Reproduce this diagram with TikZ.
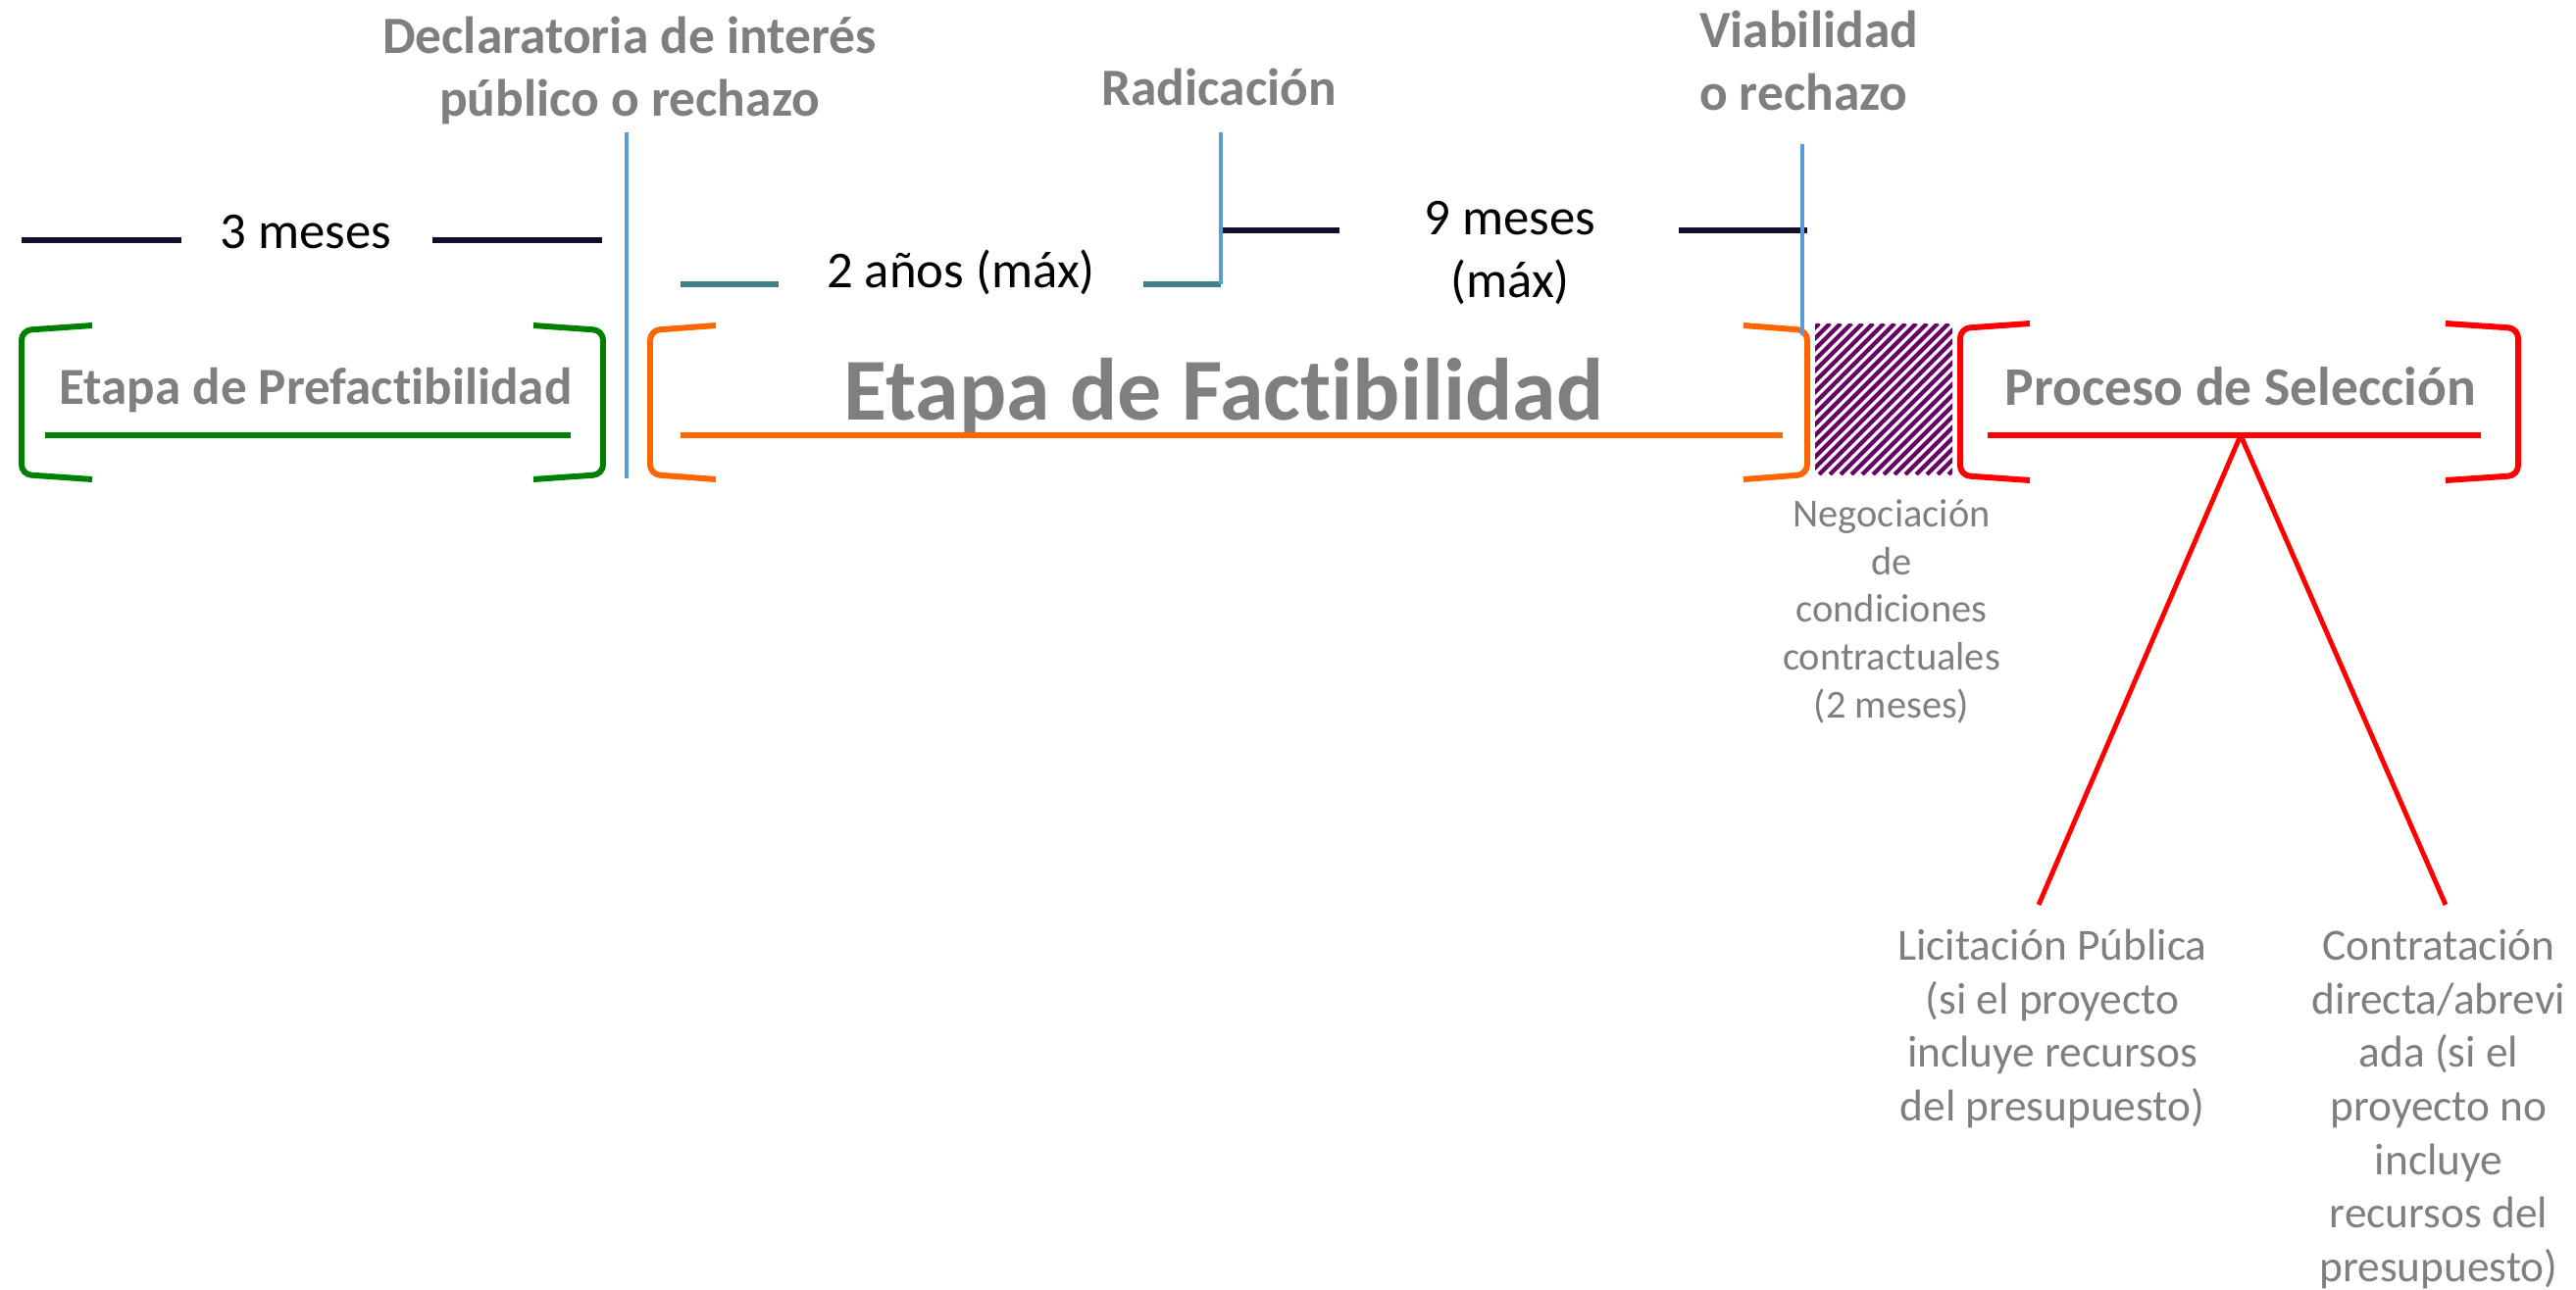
\documentclass[tikz,border=0pt]{standalone}
\usepackage{fontspec}
\setmainfont{Carlito}[Ligatures=NoCommon]
\definecolor{txtgray}{HTML}{7F7F7F}
\definecolor{navyln}{HTML}{10102A}
\definecolor{tealln}{HTML}{3F7F86}
\definecolor{bluemk}{HTML}{5B9BD5}
\definecolor{greenbr}{HTML}{008000}
\definecolor{orangebr}{HTML}{FF6600}
\definecolor{hatchp}{HTML}{660066}

\begin{document}
\begin{tikzpicture}[x=0.01cm, y=-0.01cm, inner sep=0pt, line width=1.7pt,
    hdr/.style = {font=\bfseries\fontsize{15.2}{18}\selectfont, text=txtgray, align=center},
    dur/.style = {font=\fontsize{15}{18}\selectfont, align=center},
    stage/.style = {font=\bfseries\fontsize{15.1}{18}\selectfont, text=txtgray},
    note/.style = {font=\fontsize{11.5}{13.8}\selectfont, text=txtgray, align=center},
    opt/.style = {font=\fontsize{12.9}{15.5}\selectfont, text=txtgray, align=center},
    marker/.style = {draw=bluemk, line width=1.4pt},
    span/.style = {draw=navyln},
    tspan/.style = {draw=tealln},
    brk/.style = {rounded corners=0.1cm},
    hatchbox/.style = {minimum width=1.4cm, minimum height=1.54cm}]
    \useasboundingbox (0,0) rectangle (2627,1315);

    % headers (base = last line)
    \node[hdr, anchor=base] (decl) at (642,118) {Declaratoria de interés\\público o rechazo};
    \node[hdr, anchor=base] (radic) at (1243,107) {Radicación};
    \node[hdr, align=left, anchor=base west] (viab) at (1730,112) {Viabilidad\\o rechazo};

    % durations
    \node[dur, anchor=base] (t0) at (312,253) {3 meses};
    \node[dur, anchor=base] (t1) at (980,293) {2 años (máx)};
    \node[dur, anchor=base] (t2) at (1540,303) {9 meses\\(máx)};
    \draw[span] (22,245) -- (185,245);
    \draw[span] (441,245) -- (614,245);
    \draw[tspan] (694,290) -- (794,290);
    \draw[tspan] (1166,290) -- (1245,290);
    \draw[span] (1245,235) -- (1366,235);
    \draw[span] (1712,235) -- (1843,235);

    % stages
    \node[stage, anchor=base] (pref) at (322,412) {Etapa de Prefactibilidad};
    \node[stage, font=\bfseries\fontsize{25.6}{30}\selectfont, anchor=base] (fact) at (1248,428) {Etapa de Factibilidad};
    \node[stage, font=\bfseries\fontsize{15.8}{18}\selectfont, anchor=base] (sel) at (2285,413) {Proceso de Selección};
    \draw[greenbr, brk] (94,332) -- (22,337) -- (22,484) -- (94,489);
    \draw[greenbr, brk] (544,332) -- (615,337) -- (615,484) -- (544,489);
    \draw[greenbr] (46,444) -- (582,444);
    \draw[orangebr, brk] (730,332) -- (663,337) -- (663,484) -- (730,489);
    \draw[orangebr, brk] (1778,332) -- (1843,337) -- (1843,484) -- (1778,489);
    \draw[orangebr] (694,444) -- (1818,444);
    \draw[red, brk] (2070,330) -- (1999,335) -- (1999,485) -- (2070,490);
    \draw[red, brk] (2494,330) -- (2568,335) -- (2568,485) -- (2494,490);
    \draw[red] (2027,444) -- (2530,444);

    % negotiation
    \node[hatchbox] (nbox) at (1921,407) {};
    \begin{scope}
        \clip (1851,330) rectangle (1991,484);
        \foreach \x in {1690,1701,...,2000}
            \draw[hatchp, line width=1.2pt] (\x,484) -- ++(154,-154);
    \end{scope}
    \node[note, anchor=base] (neg) at (1929,732) {Negociación\\de\\condiciones\\contractuales\\(2 meses)};

    % milestones
    \coordinate (dtop) at (639,135);
    \coordinate (dbot) at (639,488);
    \coordinate (rtop) at (1245,135);
    \coordinate (rbot) at (1245,290);
    \coordinate (vtop) at (1838,147);
    \coordinate (vbot) at (1838,342);
    \draw[marker] (dtop) -- (dbot);
    \draw[marker] (rtop) -- (rbot);
    \draw[marker] (vtop) -- (vbot);

    % selection options
    \node[opt, anchor=base] (lic) at (2093,1143) {Licitación Pública\\(si el proyecto\\incluye recursos\\del presupuesto)};
    \node[opt, anchor=base] (contr) at (2487,1307) {Contratación\\directa/abrevi\\ada (si el\\proyecto no\\incluye\\recursos del\\presupuesto)};
    \coordinate (apex) at (2285,444);
    \coordinate (lend) at (2079,923);
    \coordinate (cend) at (2494,923);
    \draw[red, line width=1.4pt] (apex) -- (lend);
    \draw[red, line width=1.4pt] (apex) -- (cend);
\end{tikzpicture}
\end{document}
